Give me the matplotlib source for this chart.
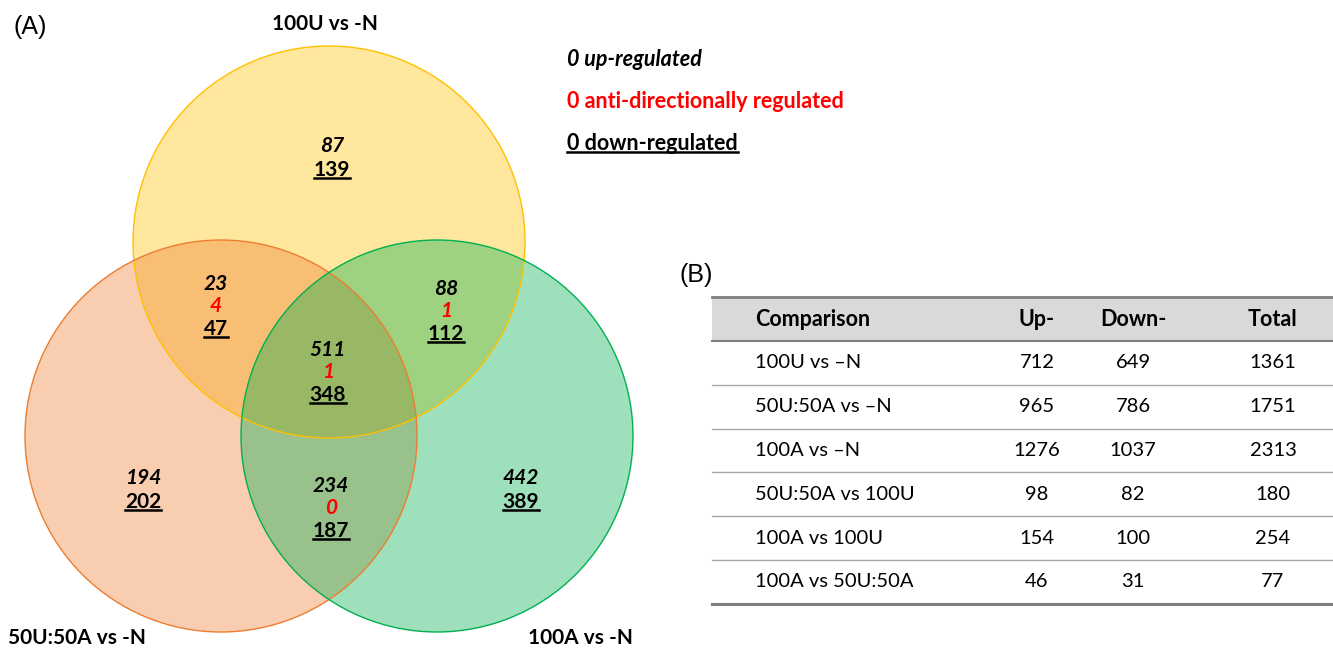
import matplotlib
matplotlib.use('Agg')
import matplotlib.pyplot as plt
from matplotlib.patches import Circle, Rectangle
from matplotlib.lines import Line2D

# venn sets
set_names = ['100U vs -N', '50U:50A vs -N', '100A vs -N']
set_colors = ['#FFC000', '#ED7D31', '#00B050']

# region counts: (up, anti, down); None = no anti-directional count shown
region_up = [87, 23, 88, 511, 194, 234, 442]
region_anti = [None, 4, 1, 1, None, 0, None]
region_down = [139, 47, 112, 348, 202, 187, 389]

legend_lines = ['0 up-regulated', '0 anti-directionally regulated', '0 down-regulated']

# table (B)
table_header = ['Comparison', 'Up-', 'Down-', 'Total']
comparisons = ['100U vs \u2013N', '50U:50A vs \u2013N', '100A vs \u2013N',
               '50U:50A vs 100U', '100A vs 100U', '100A vs 50U:50A']
up_counts = [712, 965, 1276, 98, 154, 46]
down_counts = [649, 786, 1037, 82, 100, 31]
total_counts = [1361, 1751, 2313, 180, 254, 77]

FONT = ['Lato', 'DejaVu Sans']

fig = plt.figure(figsize=(13.33, 6.5), dpi=100)
ax = fig.add_axes([0, 0, 1, 1])
ax.set_xlim(0, 1333)
ax.set_ylim(650, 0)
ax.axis('off')

# circles: yellow (top), orange (left), green (right)
centers = [(329, 242), (221, 436), (437, 436)]
radius = 196
for (cx, cy), col in zip(centers, set_colors):
    ax.add_patch(Circle((cx, cy), radius, facecolor=col, alpha=0.38, edgecolor='none'))
for (cx, cy), col in zip(centers, set_colors):
    ax.add_patch(Circle((cx, cy), radius, facecolor='none', edgecolor=col, lw=1.0))

underlined = []


def put(x, y, s, color='black', style='normal', weight='bold', size=15, ha='center',
        underline=False, family=FONT):
    t = ax.text(x, y, s, color=color, fontstyle=style, fontweight=weight, fontsize=size,
                ha=ha, va='center', family=family)
    if underline:
        underlined.append(t)
    return t


# set titles
put(325, 24, set_names[0])
put(77, 638, set_names[1])
put(580, 638, set_names[2])

# region labels
region_xy = [(332, 146), (216, 284), (446, 289), (328, 350), (143, 478), (331, 486), (521, 478)]
for (x, y), u, a, d in zip(region_xy, region_up, region_anti, region_down):
    if a is None:
        put(x, y, str(u), style='italic')
        put(x, y + 24, str(d), underline=True)
    else:
        put(x, y, str(u), style='italic')
        put(x, y + 22, str(a), color='#FF0000', style='italic')
        put(x, y + 45, str(d), underline=True)

# legend text
put(567, 60, legend_lines[0], style='italic', ha='left', size=15.5)
put(567, 102, legend_lines[1], color='#FF0000', ha='left', size=15.5)
put(567, 143, legend_lines[2], ha='left', underline=True, size=15.5)

# panel letters
ax.text(30, 27, '(A)', fontsize=18, ha='center', va='center', family='Liberation Sans')
ax.text(696, 275, '(B)', fontsize=18, ha='center', va='center', family='Liberation Sans')

# table
tx0, tx1 = 712, 1333
head_top, head_bot = 297, 341
row_h = 43.8
ax.add_patch(Rectangle((tx0, head_top), tx1 - tx0, head_bot - head_top,
                       facecolor='#D9D9D9', edgecolor='none'))
ax.add_line(Line2D([tx0, tx1], [head_top, head_top], color='#7F7F7F', lw=2))
ax.add_line(Line2D([tx0, tx1], [head_bot, head_bot], color='#7F7F7F', lw=1.5))
col_x = [755, 1037, 1133, 1273]
col_ha = ['left', 'center', 'center', 'center']
hy = (head_top + head_bot) / 2
for x, h, s in zip(col_x, col_ha, table_header):
    put(x, hy, s, ha=h, size=15.5)
for i, (c, u, d, t) in enumerate(zip(comparisons, up_counts, down_counts, total_counts)):
    y = head_bot + row_h * (i + 0.5)
    for x, h, s in zip(col_x, col_ha, [c, u, d, t]):
        put(x, y, str(s), ha=h, weight='normal', size=14.5)
    yl = head_bot + row_h * (i + 1)
    if i < len(comparisons) - 1:
        ax.add_line(Line2D([tx0, tx1], [yl, yl], color='#A6A6A6', lw=1))
    else:
        ax.add_line(Line2D([tx0, tx1], [yl, yl], color='#7F7F7F', lw=2.2))

# underline marked labels
fig.canvas.draw()
renderer = fig.canvas.get_renderer()
inv = ax.transData.inverted()
for t in underlined:
    bb = t.get_window_extent(renderer)
    (x0, y0), (x1, _) = inv.transform([(bb.x0, bb.y0), (bb.x1, bb.y1)])
    ax.add_line(Line2D([x0, x1], [y0 - 2, y0 - 2], color=t.get_color(), lw=1.8))

fig.savefig('out.png', dpi=100)
